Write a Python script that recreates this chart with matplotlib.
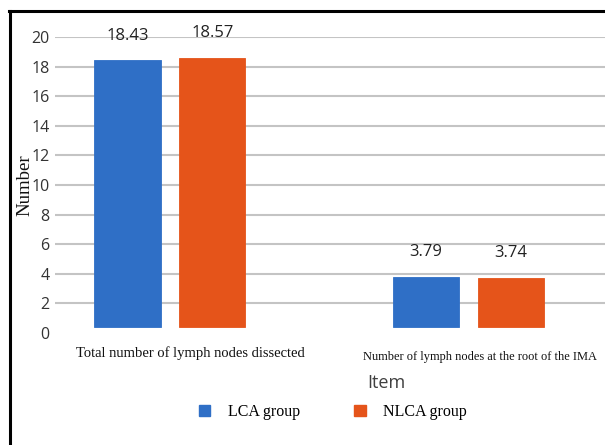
import matplotlib
matplotlib.use("Agg")
import matplotlib.pyplot as plt
from matplotlib.lines import Line2D
from matplotlib.patches import Patch
import numpy as np

categories = ["Total number of lymph nodes dissected",
              "Number of lymph nodes at the root of the IMA"]
series_names = ["LCA group", "NLCA group"]
lca_values = [18.43, 3.79]
nlca_values = [18.57, 3.74]
y_ticks = [0, 2, 4, 6, 8, 10, 12, 14, 16, 18, 20]

blue = "#2F6FC6"
orange = "#E5541A"

fig = plt.figure(figsize=(6.05, 4.45), dpi=100)
ax = fig.add_axes([55/605, 112/445, 550/605, 296/445])

x = np.arange(len(categories))
width = 0.222
offset = 0.142
base = 0.38

vals = [lca_values, nlca_values]
cols = [blue, orange]
for i, (v, c) in enumerate(zip(vals, cols)):
    v = np.array(v)
    pos = x + (offset if i else -offset)
    ax.bar(pos, v - base, bottom=base, width=width, color=c,
           edgecolor=c, linewidth=0.6, zorder=3)
    for p, val in zip(pos, v):
        ax.annotate(f"{val:.2f}", (p, val), xytext=(0, 12),
                    textcoords="offset points", ha="center", va="bottom",
                    fontsize=12, family="Open Sans", color="#222222")

ax.set_ylim(0, 20)
ax.set_xlim(-0.385, 1.457)
ax.set_yticks(y_ticks)
ax.set_yticklabels([str(t) for t in y_ticks], fontsize=11.5,
                   family="Open Sans", color="#333333")
ax.tick_params(axis="y", length=0, pad=4)
ax.set_xticks([])
for s in ax.spines.values():
    s.set_visible(False)
ax.grid(axis="y", color="#C4C4C4", linewidth=1.5, zorder=0)
ax.yaxis.get_gridlines()[0].set_visible(False)

# category labels
ax.text(0 + 0.067, -1.35, categories[0], ha="center", va="center",
        fontsize=10.5, family="Liberation Serif", color="#111111")
ax.text(1 + 0.04, -1.62, categories[1], ha="center", va="center",
        fontsize=8.9, family="Liberation Serif", color="#111111")

fig.text(386/605, 1 - 383/445, "Item", ha="center", va="center",
         fontsize=13, family="Open Sans", color="#404040")
fig.text(25/605, 1 - 185/445, "Number", ha="center", va="center",
         rotation=90, fontsize=13.5, family="Liberation Serif", color="#111111")

handles = [Patch(facecolor=blue, edgecolor=blue), Patch(facecolor=orange, edgecolor=orange)]
fig.legend(handles, series_names, loc="center", bbox_to_anchor=(333/605, 1 - 412/445),
           ncol=2, frameon=False, prop={"family": "Liberation Serif", "size": 11.5},
           handlelength=0.7, handleheight=0.7, columnspacing=3.4, handletextpad=1.1)

fig.add_artist(Line2D([10/605, 10/605], [0, 1 - 11/445], transform=fig.transFigure,
                      color="black", linewidth=2.2))
fig.add_artist(Line2D([9/605, 1], [1 - 11/445, 1 - 11/445], transform=fig.transFigure,
                      color="black", linewidth=2.2))

fig.savefig("out.png", dpi=100)
